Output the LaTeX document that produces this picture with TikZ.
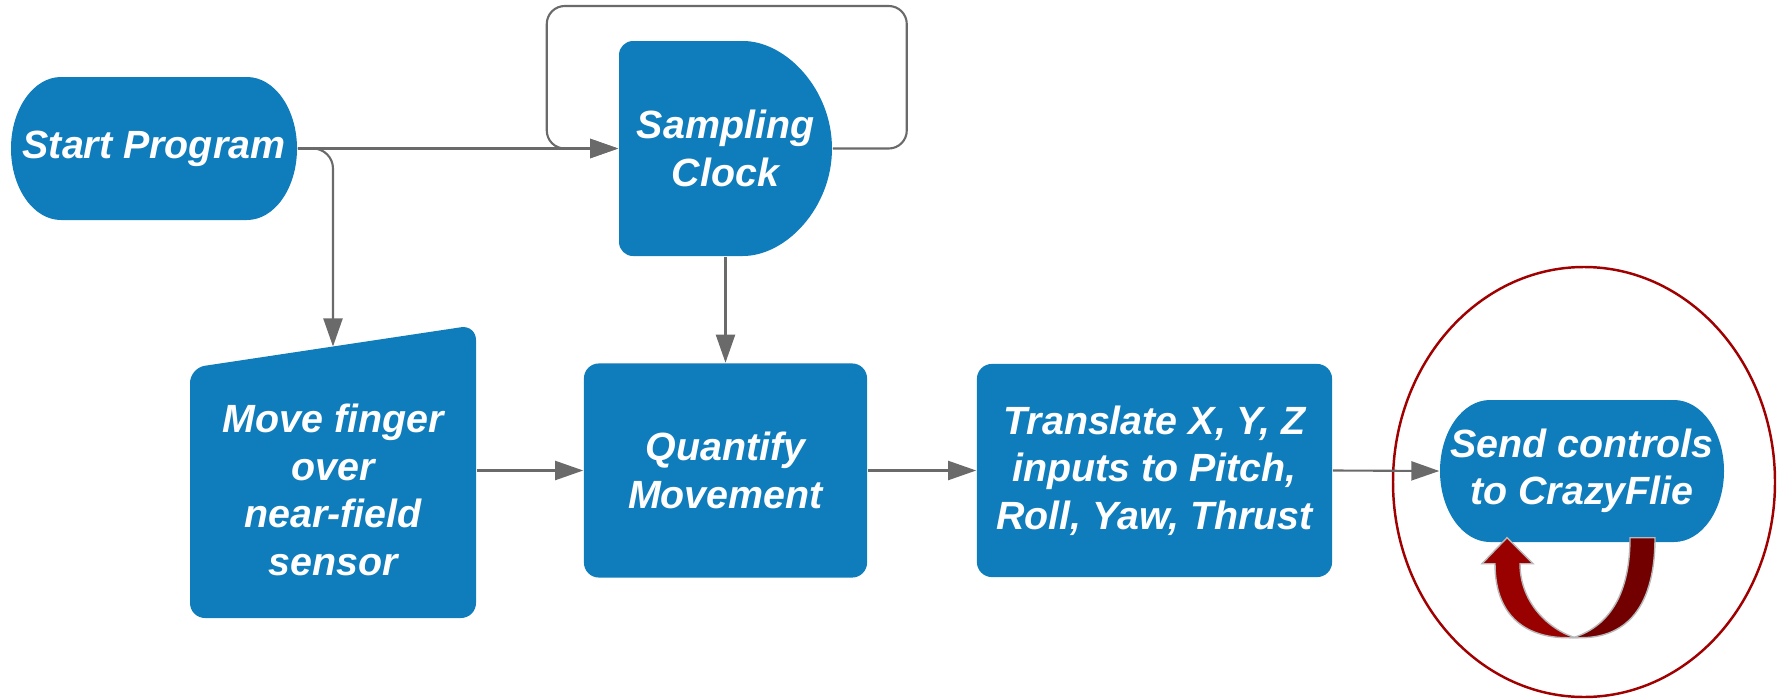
\documentclass[tikz,border=0pt]{standalone}
\usepackage{fontspec}
\setmainfont{Liberation Sans}
\usetikzlibrary{arrows.meta,calc}

\definecolor{flowblue}{HTML}{0F7CBB}
\definecolor{linegray}{HTML}{6A6A6A}
\definecolor{loopred}{HTML}{990000}
\definecolor{loopdark}{HTML}{720000}
\definecolor{ringred}{HTML}{A00000}

\tikzset{
  blocktext/.style={text=white, align=center, inner sep=0pt,
    font=\fontsize{11.2}{13.5}\selectfont\bfseries\itshape},
  block/.style={blocktext, fill=flowblue, rounded corners=0.15cm},
  flow/.style={draw=linegray, line width=0.6pt, -{Triangle[length=0.28cm, width=0.19cm]}},
  loopband/.style={draw=gray!55, line width=0.4pt},
}

% terminal: name, left, bottom, width, height, text
\newcommand\myterm[6]{\fill[flowblue] ({#2+50},{#3+#5}) -- ({#2+#4-50},{#3+#5}) arc[start angle=90, end angle=-90, x radius=50, y radius={#5/2}] -- ({#2+50},#3) arc[start angle=270, end angle=90, x radius=50, y radius={#5/2}] -- cycle; \node[blocktext, minimum width={#4*0.01cm}, minimum height={#5*0.01cm}] (#1) at ({#2+#4/2},{#3+#5/2}) {#6}; }

\begin{document}
\begin{tikzpicture}[x=0.01cm, y=0.01cm]
    \useasboundingbox (0,0) rectangle (1787,699);

    % start program
    \myterm{start}{11}{479}{286}{143}{Start Program}

    % sampling clock, flat left and round right
    \fill[flowblue, rounded corners=0.14cm] (729,443) arc[start angle=-90, end angle=90, x radius=103, y radius=107.5] -- (619,658) -- (619,443) -- cycle;
    \node[blocktext, minimum width=2.13cm, minimum height=2.15cm] (sampling) at (725.5,550.5) {Sampling\\Clock};

    % move finger, slanted top
    \fill[flowblue, rounded corners=0.15cm] (190,81) -- (476,81) -- (476,374) -- (190,331) -- cycle;
    \node[blocktext, minimum width=2.86cm] (move) at (333,209) {Move finger\\over\\near-field\\sensor};
    \coordinate (movetop) at (333,352.5);

    % quantify, translate
    \node[block, minimum width=2.83cm, minimum height=2.14cm] (quant) at (725.5,228.5) {Quantify\\Movement};
    \node[block, minimum width=3.55cm, minimum height=2.13cm] (trans) at (1154.5,228.5) {Translate X, Y, Z\\inputs to Pitch,\\Roll, Yaw, Thrust};

    % send controls
    \myterm{send}{1440}{157}{284}{142}{Send controls\\to CrazyFlie}

    % red ring
    \draw[ringred, line width=0.7pt] (1584,217) ellipse[x radius=191, y radius=215];

    % start to sampling, start to move
    \draw[flow] (start.east) -- (sampling.west);
    \draw[flow, rounded corners=0.2cm] (start.east) -| (movetop);

    % sampling loop
    \draw[flow, rounded corners=0.18cm] (sampling.east) -- ++(74,0) -- ++(0,142.5) -- ++(-360,0) -- ++(0,-142.5) -- (sampling.west);

    % main row
    \draw[flow] (sampling.south) -- (quant.north);
    \draw[flow] (move.east |- quant.west) -- (quant.west);
    \draw[flow] (quant.east) -- (trans.west);
    \draw[flow] (trans.east) -- (send.west);

    % self loop under send
    \begin{scope}[shift={(send.south)}]
      \filldraw[loopband, fill=loopred] (-100,-21) -- (-75,5) -- (-49,-21) -- (-62,-21) .. controls (-62,-57) and (-37,-85) .. (-7,-95) -- (-15,-95) .. controls (-52,-95) and (-87,-77) .. (-87,-21) -- cycle;
      \filldraw[loopband, fill=loopdark] (73,5) .. controls (73,-72) and (38,-95) .. (-1,-95) -- (-9,-95) .. controls (23,-85) and (48,-57) .. (48,5) -- cycle;
    \end{scope}
\end{tikzpicture}
\end{document}
